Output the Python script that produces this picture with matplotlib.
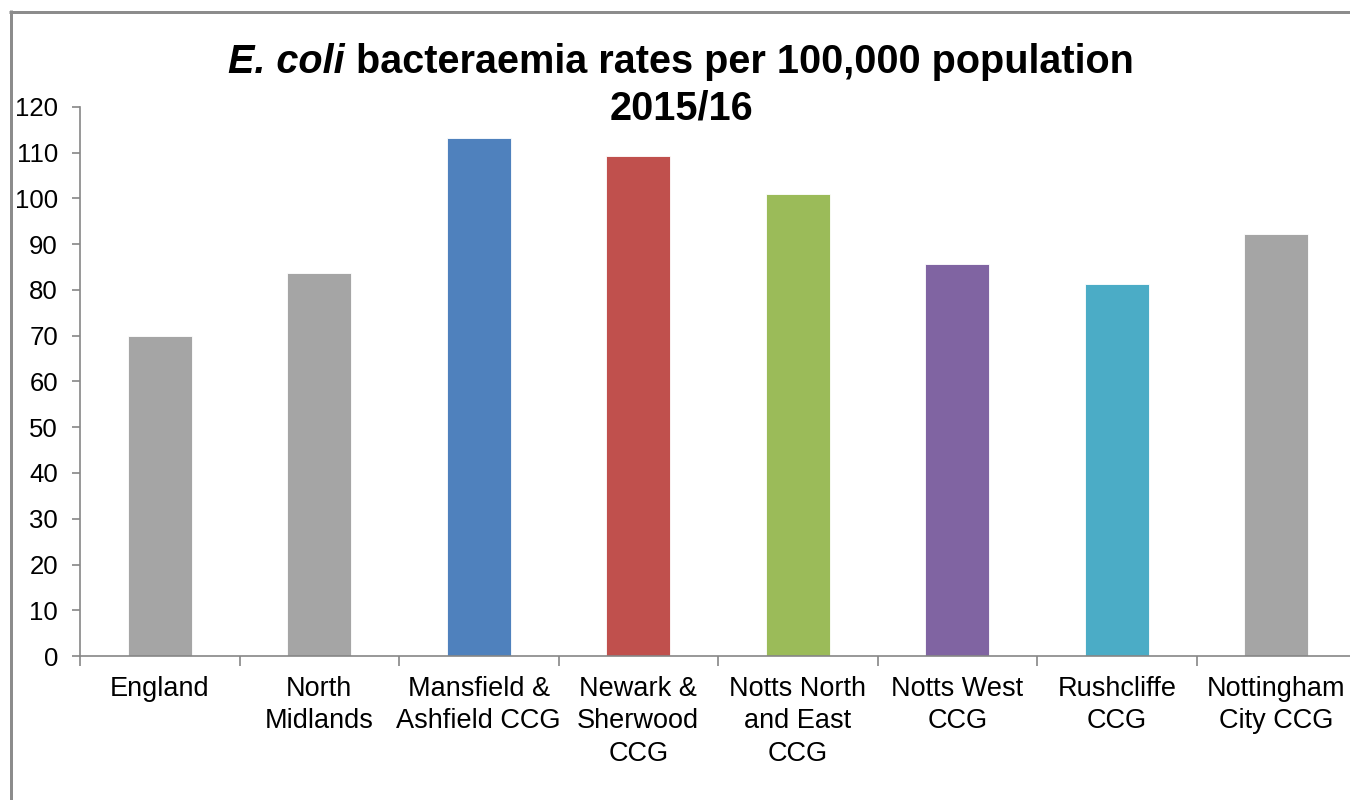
import matplotlib
matplotlib.use("Agg")
import matplotlib.pyplot as plt
from matplotlib.lines import Line2D

plt.rcParams['font.family'] = ['Liberation Sans', 'DejaVu Sans']

categories = ["England", "North\nMidlands", "Mansfield &\nAshfield CCG",
              "Newark &\nSherwood\nCCG", "Notts North\nand East\nCCG",
              "Notts West\nCCG", "Rushcliffe\nCCG", "Nottingham\nCity CCG"]
rates = [70.0, 83.8, 113.3, 109.2, 100.9, 85.6, 81.4, 92.2]
colors = ["#A5A5A5", "#A5A5A5", "#4F81BD", "#C0504D", "#9BBB59",
          "#8064A2", "#4BACC6", "#A5A5A5"]
y_ticks = list(range(0, 121, 10))

W, H = 1350, 800
PX = 72 / 100  # points per pixel at 100 dpi
fig = plt.figure(figsize=(W / 100, H / 100), dpi=100)
fig.patch.set_facecolor("white")

# chart-area border (top and left edges)
border = dict(color="#8C8C8C", linewidth=3 * PX, transform=fig.transFigure,
              solid_capstyle="butt")
fig.add_artist(Line2D([9 / W, 1.0], [1 - 11.5 / H, 1 - 11.5 / H], **border))
fig.add_artist(Line2D([10.5 / W, 10.5 / W], [1 - 10 / H, 0.0], **border))

ax = fig.add_axes([80 / W, 1 - 656 / H, (1356 - 80) / W, (656 - 107) / H])
x = list(range(len(categories)))
ax.bar(x, rates, width=0.40, color=colors, edgecolor="white", linewidth=0.6,
       zorder=2)
ax.set_xlim(-0.5, len(categories) - 0.5)
ax.set_ylim(0, 120)
ax.set_yticks(y_ticks)
ax.set_yticklabels([str(v) for v in y_ticks], fontsize=18.5)
ax.set_xticks(x)
ax.set_xticklabels(categories, fontsize=19.5, linespacing=1.32)
ax.set_xticks([i - 0.5 for i in range(len(categories) + 1)], minor=True)
ax.tick_params(axis="x", which="major", length=0, pad=20 * PX)
ax.tick_params(axis="x", which="minor", length=10 * PX, width=1.2,
               color="#868686")
ax.tick_params(axis="y", length=8 * PX, width=1.2, color="#868686",
               pad=14 * PX)
for s in ["top", "right"]:
    ax.spines[s].set_visible(False)
for s in ["left", "bottom"]:
    ax.spines[s].set_color("#868686")
    ax.spines[s].set_linewidth(1.2)
ax.set_facecolor("none")

# title with italic species name
fig.canvas.draw()
r = fig.canvas.get_renderer()
tsize = 28.5
t1 = fig.text(0, 1 - 62 / H, "E. coli", fontsize=tsize, fontweight="bold",
              fontstyle="italic", va="center", ha="left")
t2 = fig.text(0, 1 - 62 / H, " bacteraemia rates per 100,000 population",
              fontsize=tsize, fontweight="bold", va="center", ha="left")
w1 = t1.get_window_extent(r).width
w2 = t2.get_window_extent(r).width
cx = 681
start = cx - (w1 + w2) / 2
t1.set_x(start / W)
t2.set_x((start + w1) / W)
fig.text(cx / W, 1 - 108 / H, "2015/16", fontsize=tsize, fontweight="bold",
         va="center", ha="center")

fig.savefig("out.png", dpi=100)
